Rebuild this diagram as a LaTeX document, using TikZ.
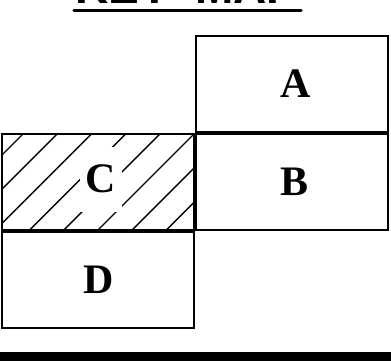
\documentclass[tikz,border=0pt]{standalone}
\usepackage{fontspec}
\setmainfont{Liberation Serif}
\newfontfamily\titlefont{Liberation Sans}
\usetikzlibrary{positioning}
\tikzstyle{cell} = [rectangle, draw, line width=2pt, inner sep=0pt,
minimum width=192pt, minimum height=96pt, font=\fontsize{42}{42}\selectfont\bfseries]
% hatch lines, given relative to the centre of the cell
\tikzstyle{hatched} = [cell, path picture={
  \foreach \c in {-123,-88.8,...,120}
    \draw[line width=1.4pt] (\c+70,-70) -- (\c-70,70);
}]
\tikzstyle{heading} = [inner sep=0pt, anchor=base west,
font=\fontsize{46}{46}\selectfont\titlefont\bfseries]

\begin{document}
\begin{tikzpicture}[x=1pt, y={(0,-1pt)}]
			\useasboundingbox (0,0) rectangle (391,361);
			% Place nodes
			\node [heading] (title) at (75,4) {KEY\ \ MAP};
			\draw [line width=3.5pt, line cap=round] (74,10.5) -- (301,10.5);
			\node [cell] (A) at (292,84) {\hspace{8pt}A};
			\node [cell, below=0pt of A] (B) {\hspace{6pt}B};
			\node [hatched, left=0pt of B] (C) {};
			\node [cell, below=0pt of C] (D) {\hspace{2pt}D};
			\node [fill=white, inner sep=0pt, minimum width=42pt, minimum height=65pt,
			font=\fontsize{42}{42}\selectfont\bfseries] (C-label) at (101,179) {C};
			% bottom bar
			\fill (0,352) rectangle (391,362);
		\end{tikzpicture}
\end{document}
